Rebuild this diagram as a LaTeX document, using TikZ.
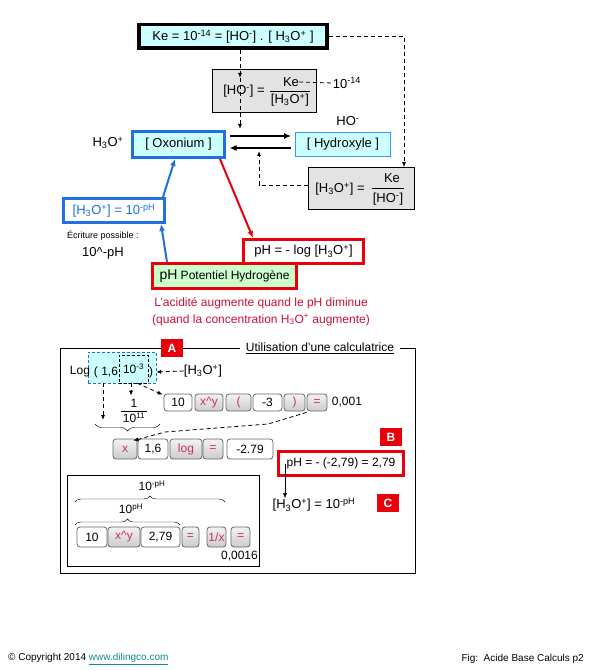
\documentclass[tikz,border=0pt]{standalone}
\usepackage{fontspec}
\setmainfont{Liberation Sans}
\usetikzlibrary{arrows.meta,decorations.pathreplacing}
\definecolor{cyanfill}{HTML}{CCFFFF}
\definecolor{grayfill}{HTML}{E3E3E3}
\definecolor{bleu}{HTML}{2070E0}
\definecolor{bleuclair}{HTML}{3399FF}
\definecolor{rouge}{HTML}{E8000B}
\definecolor{rougetxt}{HTML}{D0103A}
\definecolor{vert}{HTML}{CCFFCC}
\definecolor{rose}{HTML}{C8306A}
\definecolor{lien}{HTML}{0E8F8F}
\newcommand{\hto}{[H\textsubscript{3}O\textsuperscript{+}]}

\begin{document}
\begin{tikzpicture}[x=1pt,y=-1pt,
  every node/.style={font=\fontsize{13}{15}\selectfont, inner sep=0pt},
  graybox/.style={draw, fill=grayfill, line width=0.8pt},
  dashline/.style={dash pattern=on 4pt off 3pt, line width=0.8pt},
  tip/.style={-{Latex[length=5pt,width=4pt]}},
  grostrait/.style={line width=2pt, -{Latex[length=7pt,width=6pt]}},
  touche/.style={draw=black!60, rounded corners=3pt, fill=white, line width=0.8pt,
    minimum height=17, font=\fontsize{12}{14}\selectfont},
  touchegris/.style={touche, top color=gray!10, bottom color=gray!40, text=rose},
  lettre/.style={fill=rouge, text=white, font=\bfseries\fontsize{12}{14}\selectfont,
    minimum width=22, minimum height=18},
  calc/.style={font=\fontsize{12}{14}\selectfont},
]
\fill[white] (0,0) rectangle (595,671);
\useasboundingbox (0,0) rectangle (595,671);

% Ke
\node[draw, line width=3.5pt, fill=cyanfill, minimum width=188, minimum height=23.5] (ke) at (233,36.5)
  {Ke = 10\textsuperscript{-14} = [HO\textsuperscript{-}] . [ H\textsubscript{3}O\textsuperscript{+} ]};

% [HO-] = Ke/[H3O+]
\node[graybox, minimum width=104, minimum height=43] (hogris) at (264.5,91) {};
\node (hoeq) at (244,91) {[HO\textsuperscript{-}] =};
\node (hoke) at (291,82) {Ke};
\node (hoden) at (290,100) {\hto};
\draw ([xshift=-1]hoden.west |- hogris.center) -- ([xshift=1]hoden.east |- hogris.center);
\node (m14) at (347,83) {10\textsuperscript{-14}};
\draw[dashline] (hoke.east) -- (m14.west);

\coordinate (d1) at (240,78);
\coordinate (d2) at (240,129);
\draw[dashline, tip] (ke.south -| d1) -- (d1);
\draw[dashline, tip] (d1) -- (d2);

% oxonium / hydroxyle
\node[draw=bleu, line width=3pt, fill=cyanfill, minimum width=92, minimum height=26] (oxo) at (178.5,144.5) {[ Oxonium ]};
\node (h3o) at (108,143) {H\textsubscript{3}O\textsuperscript{+}};
\node[draw=bleuclair, line width=0.8pt, fill=cyanfill, minimum width=95, minimum height=24] (hydro) at (343,144.5) {[ Hydroxyle ]};
\node (hom) at (348,121) {HO\textsuperscript{-}};

\draw[grostrait] ([xshift=3.5,yshift=8.5]oxo.east) -- ([xshift=-4,yshift=8.5]hydro.west);
\draw[grostrait] ([xshift=-4,yshift=-3.5]hydro.west) -- ([xshift=3.5,yshift=-3.5]oxo.east);

% [H3O+] = Ke/[HO-]
\node[graybox, minimum width=106, minimum height=42] (hgris) at (361.5,188.5) {};
\node (heq) at (340,189) {\hto\ =};
\node (hke) at (392,178) {Ke};
\node (hden) at (388,199) {[HO\textsuperscript{-}]};
\draw ([xshift=-1]hden.west |- hgris.center) -- ([xshift=1]hden.east |- hgris.center);

\draw[dashline, tip] (ke.east) -| ([xshift=42.5]hgris.north);
\coordinate (d3) at (259,151);
\draw[dashline, tip] ([yshift=3.5]hgris.west) -| (d3);

% pH
\node[draw=bleu, line width=3pt, fill=white, text=bleu, minimum width=101, minimum height=24] (hpuis) at (114,210.5)
  {\hto\ = 10\textsuperscript{-pH}};
\node[font=\fontsize{9}{11}\selectfont] (ecr) at (103,236) {Écriture possible :};
\node (ecr2) at (103,253) {10\textasciicircum -pH};
\node[draw=rouge, line width=3pt, fill=white, minimum width=120, minimum height=24] (phlog) at (303.5,251.5) {pH = - log \hto};
\node[draw=rouge, line width=3pt, fill=vert, minimum width=144, minimum height=25, font=\fontsize{12}{14}\selectfont] (phpot) at (224.5,276)
  {{\fontsize{14}{16}\selectfont pH} Potentiel Hydrogène};

\draw[bleu, grostrait] ([xshift=-57.5]phpot.north) -- ([xshift=47]hpuis.south);
\draw[bleu, grostrait] ([xshift=49]hpuis.north) -- ([xshift=-3.5]oxo.south);
\draw[rouge, grostrait] ([xshift=41.5]oxo.south) -- ([xshift=-50.5]phlog.north);

\node[text=rougetxt, align=center, font=\fontsize{12}{17}\selectfont] (acid) at (261,311.5)
  {L'acidité augmente quand le pH diminue\\(quand la concentration H\textsubscript{3}O\textsuperscript{+} augmente)};

% calculatrice
\node[draw, line width=0.8pt, minimum width=355, minimum height=225] (cadre) at (237.5,460.5) {};
\node[calc, fill=white, inner xsep=6pt, inner ysep=2pt] (titre) at (320,348) {\underline{Utilisation d'une calculatrice}};
\node[lettre] (la) at (172,348) {A};
\node[lettre] (lb) at (391,437) {B};
\node[lettre] (lc) at (388,503) {C};

\node[draw=bleu, dash pattern=on 3pt off 2pt, fill=cyanfill, minimum width=68, minimum height=31] (logbox) at (122,367.5) {};
\node[calc] (log) at (80,372) {Log};
\node[calc] (un6) at (106,372) {( 1,6};
\node[calc, draw, dash pattern=on 3pt off 2pt, minimum width=29, minimum height=28] (dix3) at (133.5,369) {10\textsuperscript{-3}};
\node[calc] (parf) at (151,372) {)};
\node (hlab) at (203,371) {\hto};
\draw[dashline, tip] (hlab.west) -- ([yshift=-4.5]logbox.east);

\node[calc] (frun) at (134,403) {1};
\node[calc] (frdix) at (134,418) {10\textsuperscript{11}};
\draw ([xshift=-2,yshift=2]frdix.north west) -- ([xshift=2,yshift=2]frdix.north east);
\draw[dashline, tip] ([xshift=-2.5]dix3.south) -- ([xshift=-3,yshift=3]frun.north);
\coordinate (d4) at (103,420);
\draw[dashline, tip] (logbox.south -| d4) -- (d4);
\draw[decorate, decoration={brace, mirror, amplitude=7pt}] (95,424) -- (160,424);

% touches
\node[touche, minimum width=28] (b10) at (178,402.5) {10};
\node[touchegris, minimum width=28] (bxy) at (209,402.5) {x\textasciicircum y};
\node[touchegris, minimum width=25] (bpo) at (238.5,402.5) {(};
\node[touche, minimum width=29] (bm3) at (267.5,402.5) {-3};
\node[touchegris, minimum width=21] (bpf) at (294.5,402.5) {)};
\node[touchegris, minimum width=20] (beq) at (317,402.5) {=};
\node[calc] (r001) at (347,402) {0,001};
\draw[dashline, tip] ([xshift=-11]dix3.south east) -- ([xshift=-1,yshift=-1]b10.north west);

\node[touchegris, minimum width=24, minimum height=20] (bx) at (125,449) {x};
\node[touche, minimum width=30, minimum height=20] (b16) at (153,449) {1,6};
\node[touchegris, minimum width=32, minimum height=20] (blog) at (186,449) {log};
\node[touchegris, minimum width=20, minimum height=20] (beq2) at (213,449) {=};
\node[touche, minimum width=46, minimum height=20] (bres) at (250,449) {-2.79};
\draw[dashline, tip] ([yshift=-1]beq.south west) -- (268,424) -- (165,432) -- ([xshift=-4,yshift=-2]bx.north east);

\node[calc, draw=rouge, line width=3pt, fill=white, minimum width=125, minimum height=24] (phres) at (341,463.5) {pH = - (-2,79) = 2,79};
\node (hres) at (314,505) {\hto\ = 10\textsuperscript{-pH}};
\draw[tip] ([xshift=-56]phres.center) -- ([xshift=-56]phres.center |- hres.north);

\node[draw, line width=0.8pt, minimum width=192, minimum height=91] (boite) at (163,520.5) {};
\node[calc] (moinsph) at (152,486) {10\textsuperscript{-pH}};
\draw[decorate, decoration={brace, amplitude=6pt}] (75,502) -- (225,502);
\node[calc] (plusph) at (131,509) {10\textsuperscript{pH}};
\draw[decorate, decoration={brace, amplitude=6pt}] (75,525) -- (180,525);

\node[touche, minimum width=30, minimum height=20] (c10) at (92,537) {10};
\node[touchegris, minimum width=32, minimum height=20] (cxy) at (124,537) {x\textasciicircum y};
\node[touche, minimum width=39, minimum height=20] (c279) at (160.5,537) {2,79};
\node[touchegris, minimum width=17, minimum height=20] (ceq) at (190.5,537) {=};
\node[touchegris, minimum width=19, minimum height=20] (cinv) at (216.5,537) {1/x};
\node[touchegris, minimum width=19, minimum height=20] (ceq2) at (240.5,537) {=};
\node[calc, anchor=east] (r0016) at (258,556) {0,0016};

% pied
\node[anchor=west, font=\fontsize{10}{12}\selectfont] (copy) at (8,659) {© Copyright 2014 \textcolor{lien}{\underline{www.dilingco.com}}};
\node[anchor=east, font=\fontsize{10}{12}\selectfont] (fig) at (584,659) {Fig:\ \ Acide Base Calculs p2};
\end{tikzpicture}
\end{document}
